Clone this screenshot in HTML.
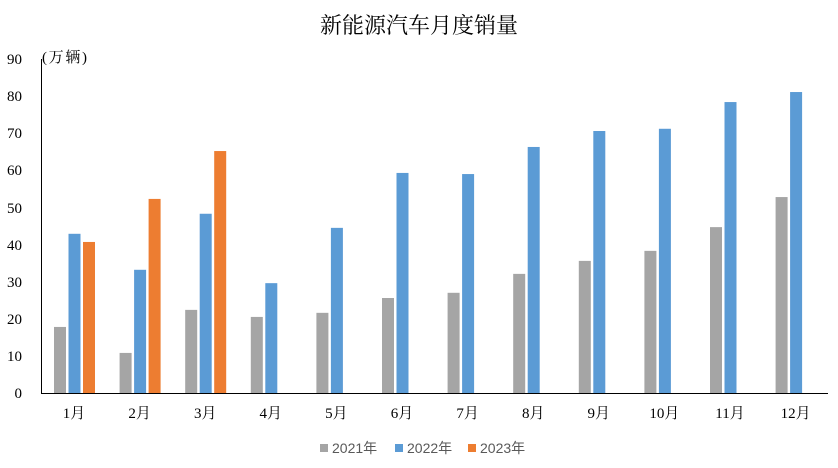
<!DOCTYPE html>
<html><head><meta charset="utf-8"><style>
html,body{margin:0;padding:0;background:#fff;}
svg{display:block;}
</style></head><body>
<svg width="838" height="468" viewBox="0 0 838 468" xmlns="http://www.w3.org/2000/svg">
<rect width="838" height="468" fill="#fff"/>
<text x="419" y="33" text-anchor="middle" font-family="Noto Serif CJK SC, serif" font-size="22" fill="#000">新能源汽车月度销量</text>
<g font-family="Liberation Serif, Noto Serif CJK SC, serif" font-size="15" fill="#000" text-anchor="end">
<text x="22" y="398">0</text>
<text x="22" y="361">10</text>
<text x="22" y="324">20</text>
<text x="22" y="287">30</text>
<text x="22" y="250">40</text>
<text x="22" y="213">50</text>
<text x="22" y="175">60</text>
<text x="22" y="138">70</text>
<text x="22" y="101">80</text>
<text x="22" y="64">90</text>
</g>
<text x="42" y="62" font-family="Liberation Serif, Noto Serif CJK SC, serif" font-size="15" fill="#000" textLength="45">(万辆)</text>
<g id="bars"></g>
<line x1="41.5" y1="59" x2="41.5" y2="393" stroke="#000" stroke-width="1"/>
<line x1="41" y1="393.5" x2="828" y2="393.5" stroke="#000" stroke-width="1"/>
<g font-family="Liberation Serif, Noto Serif CJK SC, serif" font-size="15" fill="#000" text-anchor="middle" id="xl"></g>
<g font-family="Liberation Sans, Noto Sans CJK SC, sans-serif" font-size="14" fill="#595959">
<rect x="320" y="444" width="8" height="8" fill="#A5A5A5"/><text x="332" y="453">2021年</text>
<rect x="395" y="444" width="8" height="8" fill="#5B9BD5"/><text x="407" y="453">2022年</text>
<rect x="468" y="444" width="8" height="8" fill="#ED7D31"/><text x="480" y="453">2023年</text>
</g>
</svg>
<script>
var g=[17.8,10.8,22.4,20.5,21.6,25.6,27,32.1,35.6,38.3,44.7,52.8];
var b=[42.9,33.2,48.3,29.6,44.5,59.3,59,66.3,70.6,71.2,78.4,81.1];
var o=[40.7,52.3,65.2];
var s=3.711,base=393,ns="http://www.w3.org/2000/svg";
var bars=document.getElementById('bars'),xl=document.getElementById('xl');
function r(x,v,c){var e=document.createElementNS(ns,'rect');var h=v*s;e.setAttribute('x',x);e.setAttribute('y',base-h);e.setAttribute('width',12);e.setAttribute('height',h);e.setAttribute('fill',c);bars.appendChild(e);}
for(var i=0;i<12;i++){var x0=54+65.6*i;r(x0,g[i],'#A5A5A5');r(x0+14.5,b[i],'#5B9BD5');if(i<3)r(x0+29,o[i],'#ED7D31');
var t=document.createElementNS(ns,'text');t.setAttribute('x',74+65.6*i);t.setAttribute('y',418);t.textContent=(i+1)+'月';xl.appendChild(t);}
</script>
</body></html>
